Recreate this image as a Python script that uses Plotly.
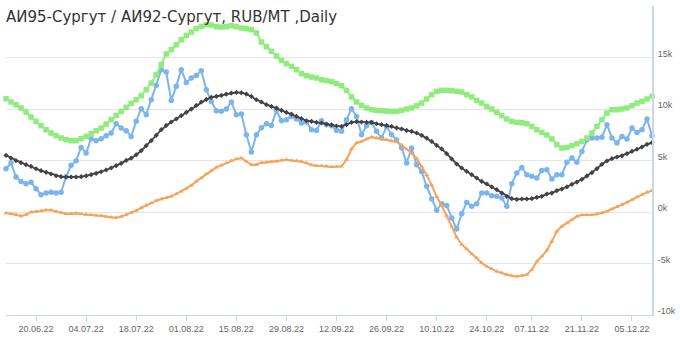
import pandas as pd
import plotly.graph_objects as go

# Business days (Russian holidays removed), ordinal axis like the original
all_days = pd.bdate_range("2022-06-09", "2022-12-09")
holidays = ["2022-06-13", "2022-11-04"]
dates = [d.strftime("%Y-%m-%d") for d in all_days if d.strftime("%Y-%m-%d") not in holidays]

tick_dates = ["2022-06-20", "2022-07-04", "2022-07-18", "2022-08-01", "2022-08-15",
              "2022-08-29", "2022-09-12", "2022-09-26", "2022-10-10", "2022-10-24",
              "2022-11-07", "2022-11-21", "2022-12-05"]
tick_labels = ["20.06.22", "04.07.22", "18.07.22", "01.08.22", "15.08.22", "29.08.22",
               "12.09.22", "26.09.22", "10.10.22", "24.10.22", "07.11.22", "21.11.22", "05.12.22"]

y_tickvals = [-10000, -5000, 0, 5000, 10000, 15000, 20000]
y_ticktext = ["-10k", "-5k", "0k", "5k", "10k", "15k", ""]

spread_daily = [
    4200, 4760, 3400, 2970, 2750, 2880, 2260, 1680, 1840, 1910,
    1840, 1910, 3420, 4530, 4980, 6270, 5730, 7120, 6920, 7120,
    7410, 7670, 8570, 8150, 7890, 7340, 8800, 10030, 9450, 10900,
    12290, 13820, 13590, 10830, 12200, 13820, 12580, 13000, 13260, 13720,
    11870, 10740, 9830, 9770, 10000, 10680, 9450, 9510, 7500, 5830,
    7500, 8180, 8570, 8410, 9870, 8860, 8960, 9280, 9030, 8640,
    8740, 7990, 7920, 8860, 8480, 8380, 7920, 7830, 8960, 10030,
    9280, 7500, 8380, 8700, 7830, 7180, 8310, 7500, 7000, 6250,
    4760, 6210, 4590, 3940, 2490, 1260, 170, 810, 640, -580,
    -1650, -170, 930, 550, 810, 1840, 1840, 1580, 1520, 1360,
    550, 2750, 3790, 4320, 3620, 3460, 3300, 4040, 4110, 3210,
    3620, 3620, 4820, 5240, 4820, 5880, 7020, 7180, 7180, 7250,
    8480, 7180, 6700, 7340, 7080, 8150, 7730, 7990, 9030, 7410,
]

spread_avg = [
    5500, 5240, 4980, 4790, 4590, 4430, 4200, 4010, 3850, 3690,
    3520, 3430, 3400, 3400, 3400, 3430, 3500, 3620, 3750, 3910,
    4080, 4270, 4500, 4720, 5010, 5230, 5560, 5950, 6440, 6920,
    7440, 7990, 8410, 8740, 9030, 9350, 9670, 9990, 10350, 10680,
    10930, 11130, 11220, 11320, 11450, 11550, 11610, 11580, 11450, 11220,
    10900, 10680, 10420, 10250, 10090, 9870, 9670, 9510, 9280, 9060,
    8860, 8800, 8700, 8640, 8540, 8450, 8350, 8310, 8480, 8700,
    8770, 8740, 8700, 8700, 8570, 8480, 8410, 8310, 8160, 8060,
    7920, 7830, 7670, 7440, 7180, 6850, 6470, 6120, 5660, 5150,
    4660, 4270, 3940, 3620, 3300, 2970, 2720, 2430, 2170, 1840,
    1520, 1290, 1220, 1260, 1260, 1290, 1420, 1520, 1750, 1840,
    2070, 2230, 2430, 2690, 2910, 3170, 3500, 3820, 4210, 4630,
    4950, 5180, 5340, 5440, 5660, 5890, 6090, 6310, 6570, 6730,
]

spread_max = [
    11000, 10680, 10420, 10100, 9710, 9220, 8800, 8380, 7990, 7670,
    7410, 7180, 7020, 6920, 6920, 7120, 7340, 7600, 7890, 8150,
    8540, 8960, 9380, 9770, 10160, 10550, 10900, 11290, 11870, 12520,
    13330, 14300, 15340, 15760, 16240, 16730, 17150, 17470, 17800, 18020,
    18180, 18150, 17990, 17960, 17990, 18090, 17990, 17860, 17800, 17700,
    17380, 16500, 16050, 15600, 15150, 14720, 14400, 14140, 13820, 13430,
    13230, 13110, 13010, 12840, 12750, 12650, 12460, 12260, 11810, 11170,
    10680, 10350, 10100, 9930, 9870, 9840, 9800, 9770, 9770, 9870,
    10000, 10100, 10320, 10580, 10970, 11390, 11710, 11810, 11810, 11780,
    11710, 11650, 11390, 11170, 10830, 10580, 10250, 10000, 9670, 9350,
    9030, 8800, 8700, 8670, 8570, 8310, 7990, 7730, 7480, 7090,
    6530, 6210, 6270, 6440, 6630, 6850, 7180, 7670, 8310, 8960,
    9610, 9930, 9930, 10000, 10100, 10320, 10580, 10740, 10970, 11220,
]

spread_min = [
    -100, -170, -260, -390, -260, 0, 30, 100, 190, 190,
    60, -70, -170, -170, -130, -190, -260, -290, -330, -360,
    -460, -520, -550, -460, -260, -70, 130, 390, 650, 870,
    1100, 1260, 1360, 1520, 1750, 2000, 2260, 2580, 2970, 3300,
    3690, 4010, 4330, 4530, 4760, 4980, 5150, 5240, 4910, 4590,
    4590, 4790, 4820, 4880, 4910, 5010, 5080, 5010, 4980, 4880,
    4760, 4560, 4500, 4500, 4430, 4370, 4400, 4430, 5080, 6120,
    6700, 6850, 7080, 7280, 7180, 7080, 7020, 6920, 6800, 6500,
    6100, 5700, 5200, 4400, 3600, 2600, 1500, 600, -350, -1400,
    -2450, -3150, -3590, -4050, -4470, -4950, -5280, -5530, -5770, -5920,
    -6090, -6180, -6250, -6170, -6090, -5600, -4800, -4310, -3720, -2850,
    -1880, -1390, -1070, -750, -430, -290, -290, -290, -200, -100,
    60, 290, 490, 710, 930, 1190, 1460, 1680, 1910, 2070,
]

fig = go.Figure()

series = [
    (spread_daily, "#7cb5ec", "circle", 5.5, 2),
    (spread_avg, "#434348", "diamond", 4, 1.8),
    (spread_max, "#90ed7d", "square", 5.5, 2),
    (spread_min, "#f7a35c", "triangle-up", 4.5, 2),
]
for vals, color, sym, size, lw in series:
    fig.add_trace(go.Scatter(
        x=dates, y=vals, mode="lines+markers",
        line=dict(color=color, width=lw),
        marker=dict(symbol=sym, size=size, color=color, line=dict(width=0)),
        cliponaxis=False, showlegend=False,
    ))

fig.update_layout(
    width=680, height=339,
    margin=dict(l=6, r=28, t=6, b=24, autoexpand=False),
    paper_bgcolor="white", plot_bgcolor="white",
    font=dict(family="Liberation Sans", color="#666666", size=9),
    xaxis=dict(
        type="category", range=[0, len(dates) - 1],
        tickmode="array", tickvals=tick_dates, ticktext=tick_labels,
        tickangle=0, automargin=False,
        ticks="outside", ticklen=5, tickcolor="#ccd6eb",
        showline=True, linecolor="#ccd6eb", linewidth=1,
        showgrid=False, zeroline=False,
        tickfont=dict(family="Liberation Sans", size=9, color="#666666"),
    ),
    yaxis=dict(
        side="right", range=[-10000, 20000], automargin=False,
        tickmode="array", tickvals=y_tickvals, ticktext=y_ticktext,
        showgrid=True, gridcolor="#e6e6e6", gridwidth=1,
        showline=True, linecolor="#ccd6eb", linewidth=2,
        zeroline=False, ticks="", ticklabelshift=-4, ticklabelstandoff=2,
        tickfont=dict(family="Liberation Sans", size=9, color="#666666"),
    ),
    annotations=[dict(
        text="АИ95-Сургут / АИ92-Сургут, RUB/MT ,Daily",
        xref="paper", yref="paper", x=0, y=1, xanchor="left", yanchor="top",
        xshift=-2, yshift=0, showarrow=False,
        font=dict(family="DejaVu Sans", size=15, color="#333333"),
    )],
)

fig.write_html("out.html")
